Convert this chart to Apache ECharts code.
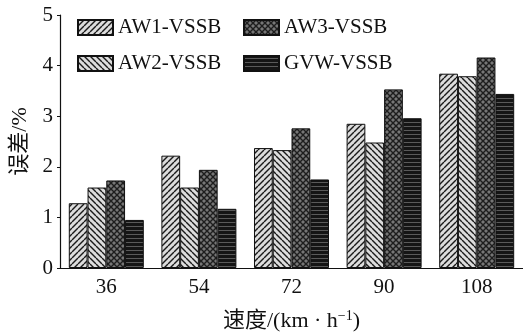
<!DOCTYPE html>
<html>
<head>
<meta charset="utf-8">
<script src="https://cdn.jsdelivr.net/npm/echarts@6/dist/echarts.min.js"></script>
<style>html,body{margin:0;padding:0;background:#fff;}#c{width:523px;height:335px;}</style>
</head>
<body>
<div id="c"></div>
<script>
var categories = ['36', '54', '72', '90', '108'];
var seriesNames = ['AW1-VSSB', 'AW2-VSSB', 'AW3-VSSB', 'GVW-VSSB'];
var aw1 = [1.28, 2.22, 2.37, 2.85, 3.84];
var aw2 = [1.59, 1.59, 2.33, 2.48, 3.79];
var aw3 = [1.73, 1.94, 2.76, 3.53, 4.16];
var gvw = [0.95, 1.17, 1.75, 2.96, 3.44];
var yTicks = [0, 1, 2, 3, 4, 5];

function makeCanvas(w, h) {
  var c = document.createElement('canvas');
  c.width = w; c.height = h;
  return c;
}
function diagPattern(bg, fg, dir) {
  var s = 6;
  var c = makeCanvas(s, s);
  var ctx = c.getContext('2d');
  ctx.fillStyle = bg; ctx.fillRect(0, 0, s, s);
  ctx.strokeStyle = fg; ctx.lineWidth = 1.4;
  for (var k = -1; k <= 1; k++) {
    ctx.beginPath();
    if (dir > 0) { ctx.moveTo(k * s, s); ctx.lineTo(k * s + s, 0); }
    else { ctx.moveTo(k * s, 0); ctx.lineTo(k * s + s, s); }
    ctx.stroke();
  }
  return {image: c, repeat: 'repeat'};
}
function crossPattern() {
  var s = 6;
  var c = makeCanvas(s, s);
  var ctx = c.getContext('2d');
  ctx.fillStyle = '#767676'; ctx.fillRect(0, 0, s, s);
  ctx.strokeStyle = '#1e1e1e'; ctx.lineWidth = 1.4;
  for (var k = -1; k <= 1; k++) {
    ctx.beginPath(); ctx.moveTo(k * s, s); ctx.lineTo(k * s + s, 0); ctx.stroke();
    ctx.beginPath(); ctx.moveTo(k * s, 0); ctx.lineTo(k * s + s, s); ctx.stroke();
  }
  return {image: c, repeat: 'repeat'};
}
function horizPattern() {
  var s = 4;
  var c = makeCanvas(s, s);
  var ctx = c.getContext('2d');
  ctx.fillStyle = '#151515'; ctx.fillRect(0, 0, s, s);
  ctx.fillStyle = '#5a5a5a'; ctx.fillRect(0, 2, s, 1);
  return {image: c, repeat: 'repeat'};
}

var fills = [diagPattern('#dcdcdc', '#1a1a1a', 1), diagPattern('#dcdcdc', '#1a1a1a', -1), crossPattern(), horizPattern()];
var dataSets = [aw1, aw2, aw3, gvw];
var font = "'Liberation Serif', 'Noto Sans CJK SC', serif";

var series = seriesNames.map(function (n, i) {
  return {
    name: n,
    type: 'bar',
    data: dataSets[i],
    barGap: '0%',
    barCategoryGap: '19%',
    itemStyle: {color: fills[i], borderColor: '#111', borderWidth: 1},
    emphasis: {disabled: true}
  };
});

var chart = echarts.init(document.getElementById('c'));
chart.setOption({
  animation: false,
  textStyle: {fontFamily: font},
  grid: {left: 60, right: 0, top: 15, bottom: 67, outerBoundsMode: 'none', containLabel: false},
  legend: [
    {
      data: ['AW1-VSSB', 'AW2-VSSB'], orient: 'vertical', left: 72, top: 12, icon: 'rect',
      itemWidth: 35, itemHeight: 15, itemGap: 15,
      textStyle: {fontFamily: font, fontSize: 21, color: '#111'}
    },
    {
      data: ['AW3-VSSB', 'GVW-VSSB'], orient: 'vertical', left: 238, top: 12, icon: 'rect',
      itemWidth: 35, itemHeight: 15, itemGap: 15,
      textStyle: {fontFamily: font, fontSize: 21, color: '#111'}
    }
  ],
  xAxis: {
    type: 'category',
    data: categories,
    axisLine: {lineStyle: {color: '#111', width: 1.2}},
    axisTick: {show: false},
    axisLabel: {fontFamily: font, fontSize: 21, color: '#111', margin: 9},
    name: '{a|速度/(km · h}{s|−1}{a|)}',
    nameLocation: 'middle',
    nameGap: 41,
    nameTextStyle: {
      rich: {
        a: {fontFamily: font, fontSize: 22, color: '#111'},
        s: {fontFamily: font, fontSize: 14, color: '#111', verticalAlign: 'top', padding: [0, 0, 10, 0]}
      }
    }
  },
  yAxis: {
    type: 'value',
    min: yTicks[0], max: yTicks[yTicks.length - 1], interval: 1,
    axisLine: {show: true, lineStyle: {color: '#111', width: 1.2}},
    axisTick: {show: true, length: 3, lineStyle: {color: '#111'}},
    splitLine: {show: false},
    axisLabel: {fontFamily: font, fontSize: 21, color: '#111', margin: 7},
    name: '误差/%',
    nameLocation: 'middle',
    nameGap: 25,
    nameTextStyle: {fontFamily: font, fontSize: 22, color: '#111'}
  },
  series: series
});
</script>
</body>
</html>
